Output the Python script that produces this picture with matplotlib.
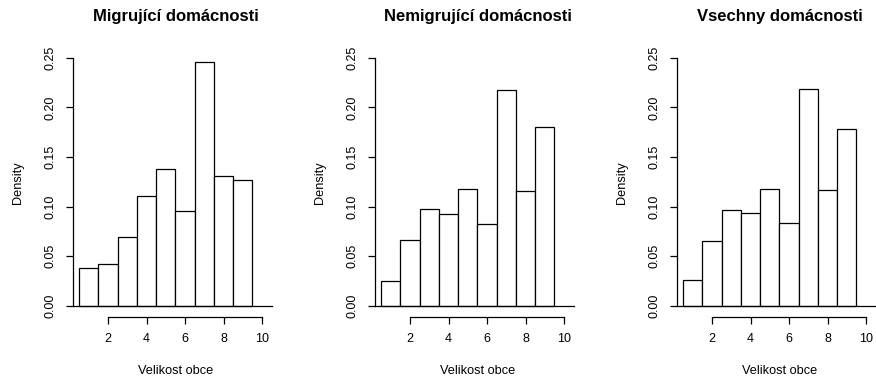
import matplotlib.pyplot as plt
import numpy as np

plt.rcParams['font.family'] = ['Liberation Sans', 'DejaVu Sans']

# hranice trid histogramu (velikost obce)
breaks = [0.5, 1.5, 2.5, 3.5, 4.5, 5.5, 6.5, 7.5, 8.5, 9.5]

titles = ['Migrující domácnosti', 'Nemigrující domácnosti', 'Vsechny domácnosti']

dens_migr = [0.038, 0.042, 0.069, 0.111, 0.138, 0.096, 0.246, 0.131, 0.127]
dens_nemigr = [0.0255, 0.066, 0.098, 0.093, 0.118, 0.083, 0.218, 0.116, 0.180]
dens_vse = [0.026, 0.065, 0.097, 0.094, 0.118, 0.084, 0.2185, 0.117, 0.178]

x_ticks = [2, 4, 6, 8, 10]
y_ticks = [0.00, 0.05, 0.10, 0.15, 0.20, 0.25]

W, H = 876, 382
fig = plt.figure(figsize=(W / 100, H / 100), dpi=100)

lefts = [72.7, 374.7, 676.7]
top_px, bot_px = 47.8, 316.7
width_px = 205.6
xlim = (0.166, 10.846)
ylim = (-0.0108, 0.26)
lw = 0.9

for left, title, dens in zip(lefts, titles, [dens_migr, dens_nemigr, dens_vse]):
    ax = fig.add_axes([left / W, (H - bot_px) / H, width_px / W, (bot_px - top_px) / H])
    edges = np.array(breaks)
    ax.bar(edges[:-1], dens, width=np.diff(edges), align='edge',
           facecolor='white', edgecolor='black', linewidth=lw)
    ax.plot([xlim[0], 10.5], [0, 0], color='black', linewidth=lw)
    ax.set_xlim(*xlim)
    ax.set_ylim(*ylim)
    ax.patch.set_visible(False)

    for s in ['top', 'right']:
        ax.spines[s].set_visible(False)
    ax.spines['left'].set_bounds(0, 0.25)
    ax.spines['bottom'].set_bounds(2, 10)
    ax.spines['left'].set_linewidth(lw)
    ax.spines['bottom'].set_linewidth(lw)

    ax.set_xticks(x_ticks)
    ax.set_xticklabels([str(t) for t in x_ticks])
    ax.set_yticks(y_ticks)
    ax.set_yticklabels(['%.2f' % t for t in y_ticks], rotation=90, va='center')
    ax.tick_params(direction='out', length=5, width=lw, labelsize=9, pad=6.5)

    h = bot_px - top_px
    ax.text(0.5, (bot_px - 17) / h, title, transform=ax.transAxes,
            ha='center', va='center', fontsize=12, fontweight='bold')
    ax.text(0.5, (bot_px - 370.7) / h, 'Velikost obce',
            transform=ax.transAxes, ha='center', va='center', fontsize=9.2)
    ax.text((18 - 72.7) / width_px, 0.5, 'Density', transform=ax.transAxes,
            rotation=90, ha='center', va='center', fontsize=9.2)

fig.savefig('out.png', dpi=100)
